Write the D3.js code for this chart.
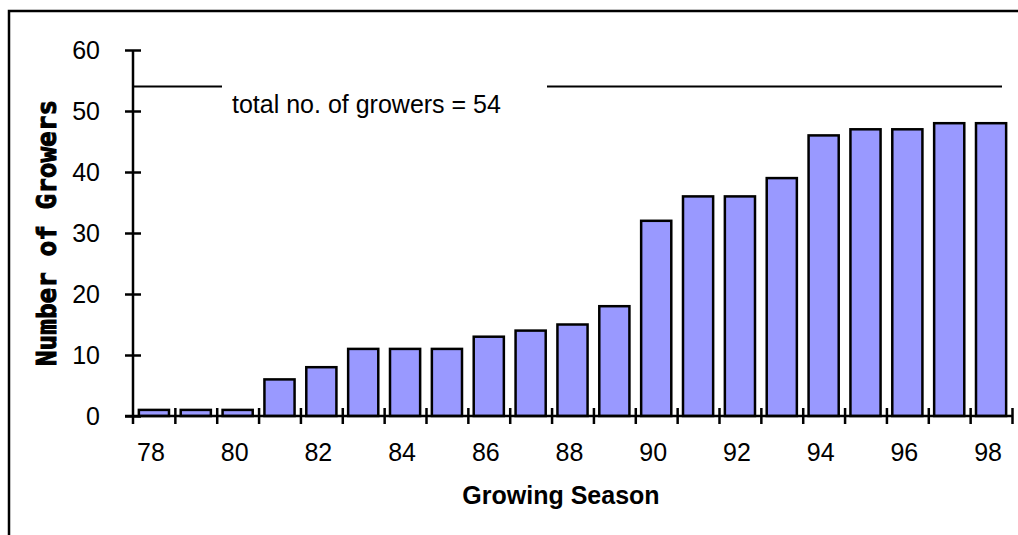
<!DOCTYPE html>
<html>
<head>
<meta charset="utf-8">
<script src="https://cdn.jsdelivr.net/npm/d3@7"></script>
<style>
  html, body { margin: 0; padding: 0; background: #fff; }
  svg { display: block; }
</style>
</head>
<body>
<svg id="chart" width="1018" height="535"></svg>
<script>
// Growers per season
const seasons = ["78","79","80","81","82","83","84","85","86","87","88","89","90","91","92","93","94","95","96","97","98"];
const growers = [1, 1, 1, 6, 8, 11, 11, 11, 13, 14, 15, 18, 32, 36, 36, 39, 46, 47, 47, 48, 48];
const yTicks = [0, 10, 20, 30, 40, 50, 60];
const xLabels = ["78","80","82","84","86","88","90","92","94","96","98"];
const totalGrowers = 54;

const svg = d3.select("#chart");
const plotLeft = 133, plotRight = 1012, plotTop = 50, plotBottom = 416;
const font = "'Liberation Sans', Arial, sans-serif";
const fontSize = 25;

// outer frame (open to the right and bottom)
svg.append("path")
  .attr("d", `M9,540 L9,11 L1030,11`)
  .attr("fill", "none").attr("stroke", "#000").attr("stroke-width", 2.5);

const x = d3.scaleBand().domain(seasons).range([plotLeft, plotRight]).paddingInner(0.28).paddingOuter(0.14);
const xEdge = d3.scaleLinear().domain([0, seasons.length]).range([plotLeft, plotRight]);
const y = d3.scaleLinear().domain([0, 60]).range([plotBottom, plotTop]);

// bars
svg.append("g").selectAll("rect").data(seasons).join("rect")
  .attr("x", d => x(d))
  .attr("width", x.bandwidth())
  .attr("y", (d, i) => y(growers[i]))
  .attr("height", (d, i) => y(0) - y(growers[i]))
  .attr("fill", "#9999ff")
  .attr("stroke", "#000")
  .attr("stroke-width", 2.5);

// y axis
const yAxis = svg.append("g").attr("transform", `translate(${plotLeft},0)`)
  .call(d3.axisLeft(y).tickValues(yTicks).tickSize(8).tickPadding(25));
yAxis.select(".domain").remove();
yAxis.selectAll(".tick line").attr("x1", 8).attr("stroke-width", 2.5);
yAxis.selectAll("text").attr("font-family", font).attr("font-size", fontSize).attr("fill", "#000");
svg.append("line").attr("x1", plotLeft).attr("x2", plotLeft).attr("y1", y(60)).attr("y2", plotBottom + 8)
  .attr("stroke", "#000").attr("stroke-width", 2.5);

// x axis: tick marks at season boundaries
const xAxis = svg.append("g").attr("transform", `translate(0,${plotBottom})`)
  .call(d3.axisBottom(xEdge).tickValues(d3.range(1, seasons.length + 1)).tickSize(8).tickFormat(""));
xAxis.select(".domain").remove();
xAxis.selectAll(".tick line").attr("y1", -8).attr("stroke-width", 2.5);
svg.append("line").attr("x1", plotLeft - 8).attr("x2", plotRight).attr("y1", plotBottom).attr("y2", plotBottom)
  .attr("stroke", "#000").attr("stroke-width", 2.5);

// x labels on every other season
const xLab = svg.append("g").attr("transform", `translate(-3,${plotBottom})`)
  .call(d3.axisBottom(x).tickValues(xLabels).tickSize(0).tickPadding(27));
xLab.select(".domain").remove();
xLab.selectAll("text").attr("font-family", font).attr("font-size", fontSize).attr("fill", "#000");

// axis titles
svg.append("text").attr("x", 561).attr("y", 504)
  .attr("text-anchor", "middle").attr("font-family", font).attr("font-weight", "bold")
  .attr("font-size", fontSize).text("Growing Season");

svg.append("text")
  .attr("transform", "translate(56,233) rotate(-90)")
  .attr("text-anchor", "middle").attr("font-family", "'DejaVu Sans Mono', monospace")
  .attr("font-weight", "bold").attr("font-size", 26)
  .attr("stroke", "#000").attr("stroke-width", 1)
  .text("Number of Growers");

// total growers reference line with its label
const yt = y(totalGrowers);
svg.append("line").attr("x1", plotLeft).attr("x2", 222).attr("y1", yt).attr("y2", yt)
  .attr("stroke", "#000").attr("stroke-width", 2);
svg.append("line").attr("x1", 547).attr("x2", 1002).attr("y1", yt).attr("y2", yt)
  .attr("stroke", "#000").attr("stroke-width", 2);
svg.append("text").attr("x", 232).attr("y", 113)
  .attr("font-family", font).attr("font-size", fontSize)
  .text(`total no. of growers = ${totalGrowers}`);
</script>
</body>
</html>
